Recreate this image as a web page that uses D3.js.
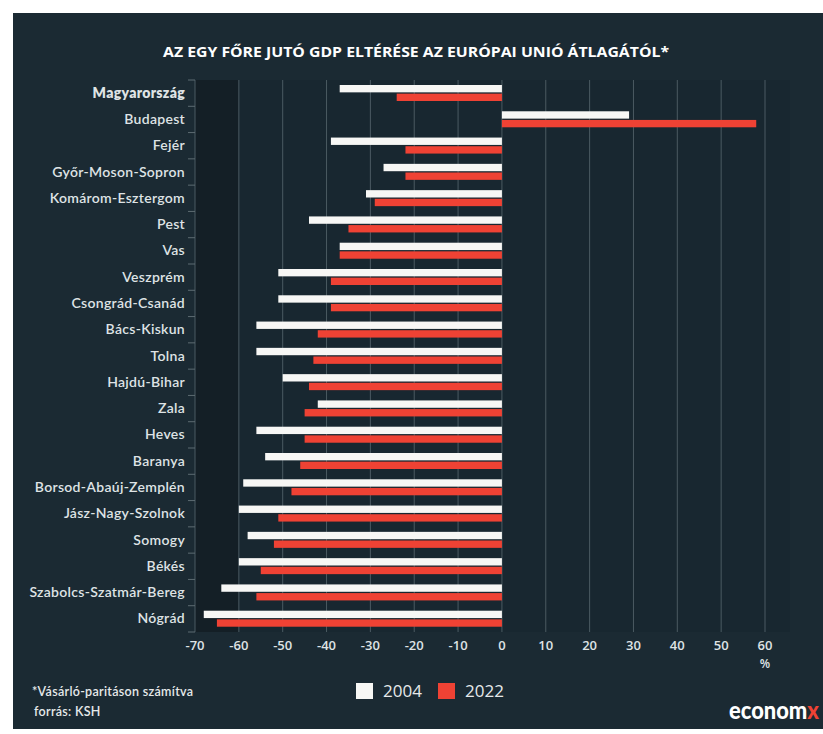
<!DOCTYPE html>
<html><head><meta charset="utf-8">
<script src="https://cdn.jsdelivr.net/npm/d3@7"></script>
<style>body{margin:0;background:#fff;overflow:hidden}</style>
</head><body>
<script>
const categories = ["Magyarország","Budapest","Fejér","Győr-Moson-Sopron","Komárom-Esztergom","Pest","Vas","Veszprém","Csongrád-Csanád","Bács-Kiskun","Tolna","Hajdú-Bihar","Zala","Heves","Baranya","Borsod-Abaúj-Zemplén","Jász-Nagy-Szolnok","Somogy","Békés","Szabolcs-Szatmár-Bereg","Nógrád"];
const values2004 = [-37,29,-39,-27,-31,-44,-37,-51,-51,-56,-56,-50,-42,-56,-54,-59,-60,-58,-60,-64,-68];
const values2022 = [-24,58,-22,-22,-29,-35,-37,-39,-39,-42,-43,-44,-45,-45,-46,-48,-51,-52,-55,-56,-65];
const seriesNames = ["2004","2022"];
const seriesColors = ["#f7f7f5","#ef4234"];
const xTicks = [-70,-60,-50,-40,-30,-20,-10,0,10,20,30,40,50,60];
const titleText = "AZ EGY FŐRE JUTÓ GDP ELTÉRÉSE AZ EURÓPAI UNIÓ ÁTLAGÁTÓL*";
const footnote = "*Vásárló-paritáson számítva";
const sourceText = "forrás: KSH";
const unitText = "%";

const W = 823, H = 734;
const svg = d3.select("body").append("svg").attr("width", W).attr("height", H);

// panel
svg.append("rect").attr("x", 13).attr("y", 13).attr("width", W - 13).attr("height", 716).attr("fill", "#1b2a33");

const x = d3.scaleLinear().domain([-70, 60]).range([195, 765]);
const y = d3.scaleBand().domain(categories).range([80, 632]);
const inner = d3.scaleBand().domain(seriesNames).range([5, 21]).paddingInner(0.15);

// plot background
svg.append("rect").attr("x", x(-70)).attr("y", 80).attr("width", 790 - x(-70)).attr("height", 552).attr("fill", "#182730");
svg.append("rect").attr("x", x(-70)).attr("y", 80).attr("width", x(-60) - x(-70)).attr("height", 552).attr("fill", "#141f26");

// gridlines
svg.append("g").selectAll("line").data(xTicks).join("line")
  .attr("x1", d => x(d)).attr("x2", d => x(d)).attr("y1", 80).attr("y2", 632)
  .attr("stroke", "#4b5a62").attr("stroke-width", 1);

// y axis ticks (band boundaries)
const bounds = categories.map(c => y(c)).concat([y.range()[1]]);
svg.append("g").selectAll("line").data(bounds).join("line")
  .attr("x1", 188).attr("x2", 195).attr("y1", d => d).attr("y2", d => d)
  .attr("stroke", "#5d6b72").attr("stroke-width", 1);

// bars
const series = [values2004, values2022];
series.forEach((vals, si) => {
  svg.append("g").selectAll("rect").data(vals).join("rect")
    .attr("x", d => x(Math.min(0, d)))
    .attr("width", d => Math.abs(x(d) - x(0)))
    .attr("y", (d, i) => y(categories[i]) + inner(seriesNames[si]))
    .attr("height", inner.bandwidth())
    .attr("fill", seriesColors[si]);
});

// category labels
svg.append("g").selectAll("text").data(categories).join("text")
  .attr("x", 185).attr("y", d => y(d) + y.bandwidth() / 2 - 1)
  .attr("text-anchor", "end").attr("dominant-baseline", "central")
  .attr("font-family", "Lato, 'Noto Sans', sans-serif")
  .attr("font-size", 14).attr("letter-spacing", 0.3).attr("font-weight", (d, i) => i === 0 ? 800 : 600)
  .attr("fill", "#dfe3e5").text(d => d);

// x tick labels
svg.append("g").selectAll("text").data(xTicks).join("text")
  .attr("x", d => x(d)).attr("y", 650)
  .attr("text-anchor", "middle")
  .attr("font-family", "'Open Sans', 'Noto Sans', sans-serif")
  .attr("font-size", 13).attr("font-weight", 600)
  .attr("fill", "#dfe3e5").text(d => d);
svg.append("text").attr("x", x(60)).attr("y", 668).attr("text-anchor", "middle")
  .attr("font-family", "'Open Sans', sans-serif").attr("font-size", 12).attr("font-weight", 600)
  .attr("fill", "#dfe3e5").text(unitText);

// title
svg.append("text").attr("x", 163).attr("y", 57)
  .attr("textLength", 506).attr("lengthAdjust", "spacingAndGlyphs")
  .attr("font-family", "'Open Sans', sans-serif").attr("font-size", 15).attr("font-weight", 700)
  .attr("fill", "#ffffff").text(titleText);

// legend
const legX = [356, 438];
seriesNames.forEach((s, i) => {
  svg.append("rect").attr("x", legX[i]).attr("y", 683).attr("width", 17).attr("height", 16).attr("fill", seriesColors[i]);
  svg.append("text").attr("x", legX[i] + 27).attr("y", 697)
    .attr("font-family", "'Open Sans', sans-serif").attr("font-size", 17)
    .attr("fill", "#e6e9ea").text(s);
});

// footnotes
svg.append("text").attr("x", 32).attr("y", 696).attr("font-family", "Lato, sans-serif")
  .attr("font-size", 12.5).attr("letter-spacing", 0.3).attr("font-weight", 600).attr("fill", "#e6e9ea").text(footnote);
svg.append("text").attr("x", 34).attr("y", 716).attr("font-family", "Lato, sans-serif")
  .attr("font-size", 12.5).attr("letter-spacing", 0.3).attr("font-weight", 600).attr("fill", "#e6e9ea").text(sourceText);

// logo (scaled horizontally to fit 729..819)
const logoG = svg.append("g");
const logoT = logoG.append("text").attr("x", 0).attr("y", 0)
  .attr("font-family", "Lato, sans-serif").attr("font-size", 25).attr("font-weight", 900);
logoT.append("tspan").attr("fill", "#ffffff").text("econom");
logoT.append("tspan").attr("fill", "#ef4234").text("x");
const natW = logoT.node().getComputedTextLength() || 100;
logoG.attr("transform", `translate(729,719) scale(${90 / natW},1)`);
</script>
</body></html>
